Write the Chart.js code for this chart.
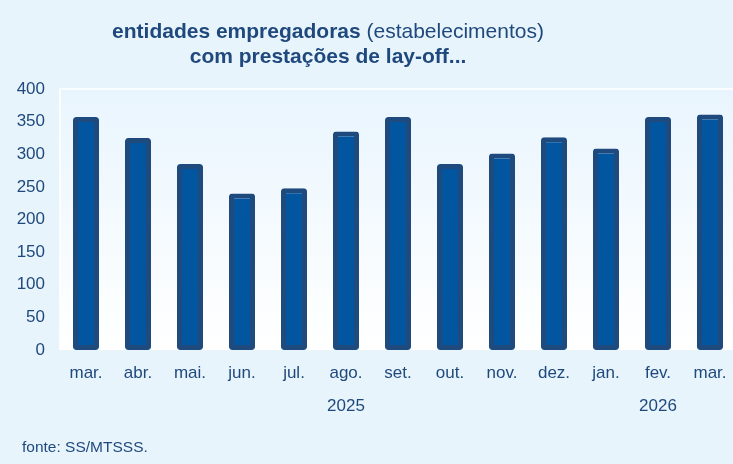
<!DOCTYPE html>
<html>
<head>
<meta charset="utf-8">
<script src="https://cdn.jsdelivr.net/npm/chart.js@4"></script>
<style>
  html, body { margin: 0; padding: 0; background: #e8f4fc; overflow: hidden; }
  #wrap { width: 736px; height: 464px; position: relative; }
</style>
</head>
<body>
<div id="wrap"><canvas id="c"></canvas></div>
<script>
const months = ['mar.', 'abr.', 'mai.', 'jun.', 'jul.', 'ago.', 'set.', 'out.', 'nov.', 'dez.', 'jan.', 'fev.', 'mar.'];
const years  = ['', '', '', '', '', '2025', '', '', '', '', '', '2026', ''];
const values = [357, 325, 285, 240, 248, 335, 357, 285, 301, 326, 309, 357, 361];
const yTicks = [0, 50, 100, 150, 200, 250, 300, 350, 400];
const titleBold1 = 'entidades empregadoras';
const titleNormal1 = ' (estabelecimentos)';
const titleBold2 = 'com prestações de lay-off...';
const sourceText = 'fonte: SS/MTSSS.';

const labels = months.map((m, i) => [m, years[i]]);
const textColor = '#1f497d';
const FONT = '"Liberation Sans", Arial, sans-serif';

const decor = {
  id: 'decor',
  beforeDraw(chart) {
    const { ctx, chartArea: a } = chart;
    ctx.save();
    const g = ctx.createLinearGradient(0, a.top, 0, a.bottom);
    g.addColorStop(0, '#e9f5fe');
    g.addColorStop(1, '#ffffff');
    ctx.fillStyle = g;
    ctx.fillRect(a.left, a.top, a.right - a.left, a.bottom - a.top);
    ctx.strokeStyle = '#ffffff';
    ctx.lineWidth = 1.5;
    ctx.beginPath();
    ctx.moveTo(a.left, a.bottom);
    ctx.lineTo(a.left, a.top);
    ctx.lineTo(a.right, a.top);
    ctx.stroke();
    ctx.restore();
  },
  afterDraw(chart) {
    const { ctx } = chart;
    ctx.save();
    ctx.fillStyle = textColor;
    ctx.textBaseline = 'middle';
    const cx = 328;
    const fs = 21;
    ctx.font = 'bold ' + fs + 'px ' + FONT;
    const w1 = ctx.measureText(titleBold1).width;
    ctx.font = fs + 'px ' + FONT;
    const w2 = ctx.measureText(titleNormal1).width;
    let x = cx - (w1 + w2) / 2;
    ctx.textAlign = 'left';
    ctx.font = 'bold ' + fs + 'px ' + FONT;
    ctx.fillText(titleBold1, x, 32);
    ctx.font = fs + 'px ' + FONT;
    ctx.fillText(titleNormal1, x + w1, 32);
    ctx.font = 'bold ' + fs + 'px ' + FONT;
    ctx.textAlign = 'center';
    ctx.fillText(titleBold2, cx, 57);
    ctx.font = '15.5px ' + FONT;
    ctx.textAlign = 'left';
    ctx.fillText(sourceText, 22, 448);
    ctx.restore();
  }
};

new Chart(document.getElementById('c'), {
  type: 'bar',
  data: {
    labels: labels,
    datasets: [{
      data: values,
      backgroundColor: '#02569f',
      borderColor: '#1f4a7e',
      borderWidth: 5,
      borderRadius: 3,
      borderSkipped: false,
      barPercentage: 0.5,
      categoryPercentage: 1.0
    }]
  },
  options: {
    responsive: true,
    maintainAspectRatio: false,
    animation: false,
    layout: { padding: { top: 89, left: 0, right: 0, bottom: 0 } },
    plugins: { legend: { display: false }, tooltip: { enabled: false }, title: { display: false } },
    scales: {
      x: {
        grid: { display: false, drawTicks: false },
        border: { display: false },
        ticks: {
          color: textColor,
          font: { family: FONT, size: 17, lineHeight: 1.95 },
          padding: 7,
          maxRotation: 0,
          autoSkip: false
        },
        afterFit(s) { s.height = 114; }
      },
      y: {
        min: 0, max: 400,
        afterBuildTicks(s) { s.ticks = yTicks.map(v => ({ value: v })); },
        grid: { display: false, drawTicks: false },
        border: { display: false },
        ticks: {
          color: textColor,
          font: { family: FONT, size: 17 },
          padding: 15
        },
        afterFit(s) { s.width = 60; }
      }
    }
  },
  plugins: [decor]
});
</script>
</body>
</html>
